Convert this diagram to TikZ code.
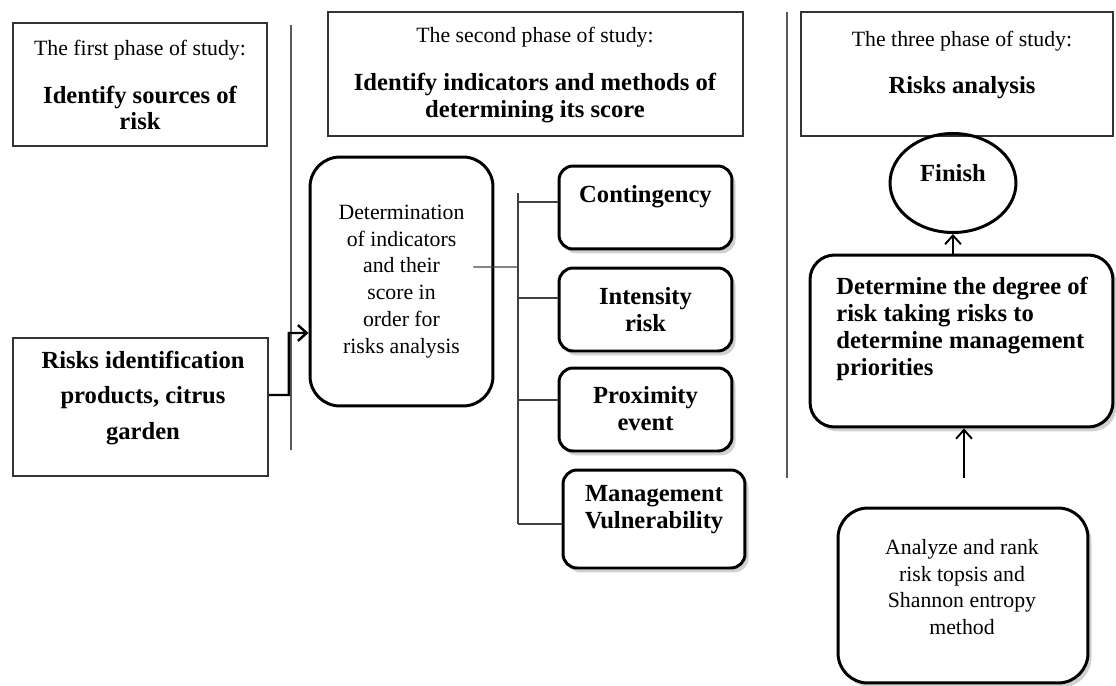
\documentclass[tikz,border=0pt]{standalone}
\usepackage{fontspec}
\setmainfont{Liberation Serif}
\usetikzlibrary{arrows.meta,shapes.geometric,shadows}
\newcommand\regfont{\fontsize{12.4}{15.3}\selectfont}
\newcommand\boldfont{\fontsize{14}{15.3}\selectfont\bfseries}

\begin{document}
\begin{tikzpicture}[x=0.02cm,y=-0.02cm,
    phasebox/.style={draw=black!80,line width=1.1pt},
    roundbox/.style={draw=black,line width=1.7pt,rounded corners=8pt},
    shade/.style={drop shadow={shadow xshift=2pt,shadow yshift=-2.5pt,fill=black!30,opacity=0.6}},
    txt/.style={align=center,inner sep=0pt,font=\regfont},
    sep/.style={draw=black!65,line width=0.8pt},
    link/.style={draw=black!75,line width=0.7pt},
    arr/.style={line width=1.1pt,-{Straight Barb[length=5pt,width=9pt]}}]
  \useasboundingbox (0,0) rectangle (1116,686);

  % phase headers
  \node[phasebox,minimum width=5.08cm,minimum height=2.46cm] (phase1) at (140,84.5) {};
  \node[txt] (phase1-t) at (140,85) {The first phase of study:\\[12pt]
    \boldfont Identify sources of\\ \boldfont risk};
  \node[phasebox,minimum width=8.3cm,minimum height=2.48cm] (phase2) at (535.5,74) {};
  \node[txt] (phase2-t) at (535,75) {The second phase of study:\\[12pt]
    \boldfont Identify indicators and methods of\\ \boldfont determining its score};
  \node[phasebox,minimum width=6.24cm,minimum height=2.48cm] (phase3) at (957,74) {};
  \node[txt] (phase3-t) at (962,65) {The three phase of study:\\[12pt]
    \boldfont Risks analysis};

  % separators
  \draw[sep] (291,25) -- (291,450);
  \draw[sep] (787,12) -- (787,478);

  % first phase
  \node[phasebox,minimum width=5.1cm,minimum height=2.76cm] (riskid) at (140.5,407) {};
  \node[txt,font=\fontsize{14}{20}\selectfont\bfseries] (riskid-t) at (143,398)
    {Risks identification\\ products, citrus\\ garden};

  % second phase
  \node[roundbox,rounded corners=17pt,minimum width=3.66cm,minimum height=4.98cm,
    align=center,font=\regfont] (determ) at (401.5,281.5)
    {Determination\\ of indicators\\ and their\\ score in\\ order for\\ risks analysis};
  \draw[arr,line width=1.4pt] ([yshift=0.24cm]riskid.east) -| ++(20,-62)
    -- ([yshift=-1.03cm]determ.west);

  \node[roundbox,shade,fill=white,minimum width=3.46cm,minimum height=1.66cm] (cont) at (645.5,207.5) {};
  \node[txt,font=\boldfont] (cont-t) at (645.5,197) {Contingency};
  \node[roundbox,shade,fill=white,minimum width=3.46cm,minimum height=1.66cm] (inten) at (645.5,309.5) {};
  \node[txt,font=\boldfont] (inten-t) at (645.5,310) {Intensity\\ risk};
  \node[roundbox,shade,fill=white,minimum width=3.46cm,minimum height=1.66cm] (proxi) at (645.5,409.5) {};
  \node[txt,font=\boldfont] (proxi-t) at (645.5,409) {Proximity\\ event};
  \node[roundbox,shade,fill=white,minimum width=3.64cm,minimum height=1.96cm] (manag) at (654,519) {};
  \node[txt,font=\boldfont] (manag-t) at (654,510) {Management\\ Vulnerability};

  \coordinate (stem) at (518,267);
  \draw[link] ([xshift=-0.42cm,yshift=0.29cm]determ.east) -- (stem);
  \draw[link] (518,193) -- (518,524);
  \foreach \b/\y in {cont/202,inten/298,proxi/400,manag/524}
    \draw[link] (518,\y) -- (\b.west |- 0,\y);

  % third phase
  \node[draw,ellipse,line width=1.7pt,minimum width=2.52cm,minimum height=1.98cm] (finish) at (953,183) {};
  \node[txt,font=\boldfont] (finish-t) at (953,173) {Finish};

  \node[roundbox,shade,fill=white,rounded corners=14pt,minimum width=6.06cm,minimum height=3.44cm] (degree) at (961.5,341) {};
  \node[txt,align=left,anchor=west,font=\boldfont] (degree-t) at (836,329)
    {Determine the degree of\\ risk taking risks to\\ determine management\\ priorities};

  \node[roundbox,shade,fill=white,rounded corners=17pt,minimum width=5cm,minimum height=3.5cm] (analyze) at (963,595.5) {};
  \node[txt] (analyze-t) at (962,587) {Analyze and rank\\ risk topsis and\\ Shannon entropy\\ method};

  \draw[arr] (finish.south |- degree.north) -- (finish.south);
  \coordinate (foot) at (964,478);
  \draw[arr] (foot) -- (foot |- degree.south);
\end{tikzpicture}
\end{document}
